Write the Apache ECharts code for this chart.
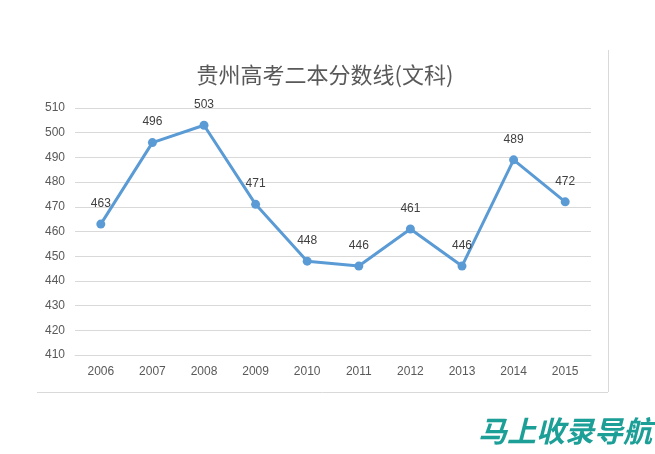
<!DOCTYPE html>
<html>
<head>
<meta charset="utf-8">
<script src="https://cdn.jsdelivr.net/npm/echarts@6/dist/echarts.min.js"></script>
<style>
html,body{margin:0;padding:0;background:#fff;}
#c{width:655px;height:454px;}
</style>
</head>
<body>
<div id="c"></div>
<script>
var categories = ['2006','2007','2008','2009','2010','2011','2012','2013','2014','2015'];
var scores = [463, 496, 503, 471, 448, 446, 461, 446, 489, 472];
var yMin = 410, yMax = 510, yStep = 10;

var chart = echarts.init(document.getElementById('c'));
chart.setOption({
  backgroundColor: '#fff',
  animation: false,
  title: {
    text: '贵州高考二本分数线(文科)',
    left: 320, top: 59, textAlign: 'center',
    textStyle: { fontFamily: 'Noto Sans CJK SC', fontSize: 22, fontWeight: 'normal', color: '#595959' }
  },
  grid: { left: 75, right: 64, top: 108, bottom: 99 },
  xAxis: {
    type: 'category', data: categories, boundaryGap: true,
    axisLine: { show: true, lineStyle: { color: '#d9d9d9' } },
    axisTick: { show: false },
    axisLabel: { color: '#595959', fontSize: 12, fontFamily: 'Liberation Sans', margin: 11 }
  },
  yAxis: {
    type: 'value', min: yMin, max: yMax, interval: yStep,
    axisLine: { show: false }, axisTick: { show: false },
    axisLabel: { color: '#595959', fontSize: 12, fontFamily: 'Liberation Sans', margin: 10 },
    splitLine: { lineStyle: { color: '#d9d9d9', width: 1 } }
  },
  series: [{
    type: 'line', data: scores,
    symbol: 'circle', symbolSize: 9,
    lineStyle: { color: '#5b9bd5', width: 3 },
    itemStyle: { color: '#5b9bd5' },
    label: { show: true, position: 'top', distance: 10, color: '#404040', fontSize: 12, fontFamily: 'Liberation Sans' }
  }],
  graphic: [
    { type: 'line', shape: { x1: 37, y1: 392.5, x2: 608, y2: 392.5 }, style: { stroke: '#d9d9d9', lineWidth: 1 } },
    { type: 'line', shape: { x1: 608.5, y1: 50, x2: 608.5, y2: 392 }, style: { stroke: '#d9d9d9', lineWidth: 1 } },
    { type: 'text', left: 478, top: 416, style: { text: '马上收录导航', fill: '#1c9f97', font: 'italic bold 29px "Noto Sans CJK SC"' } }
  ]
});
</script>
</body>
</html>
